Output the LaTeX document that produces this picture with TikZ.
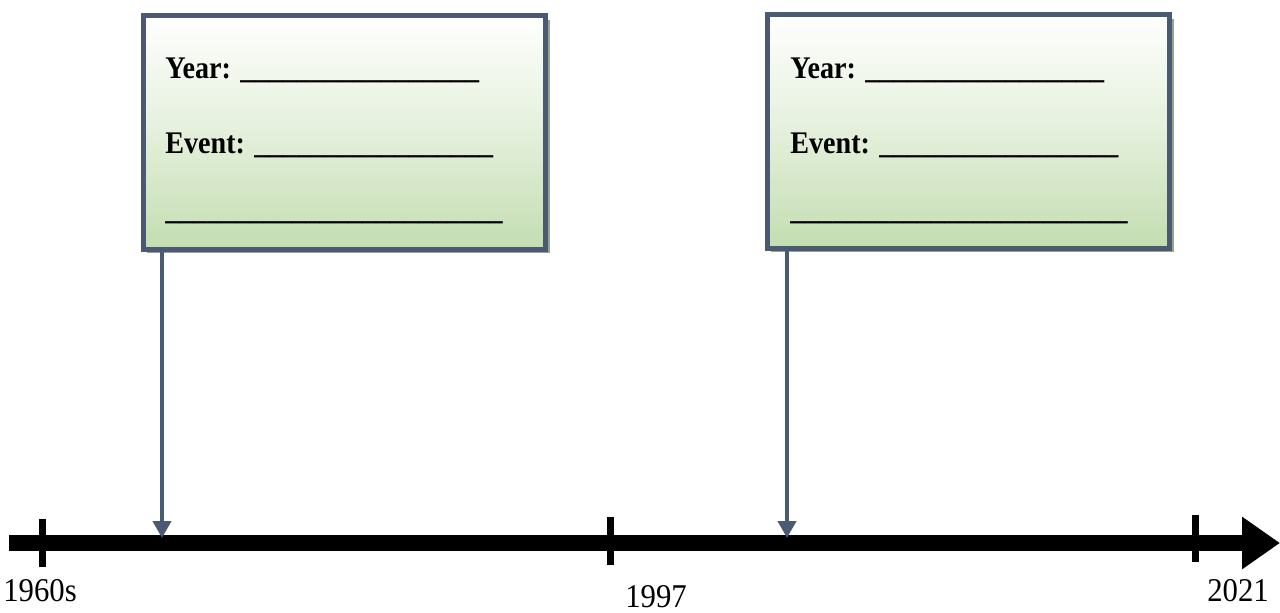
\documentclass[tikz,border=0pt]{standalone}
\usepackage{graphicx}
\usepackage{fontspec}
\setmainfont{Liberation Serif}
\usetikzlibrary{arrows.meta,shadows}
\definecolor{bordc}{HTML}{4A5A72}
\definecolor{shadc}{HTML}{96A688}
\definecolor{greenbot}{HTML}{C3DDB0}
\newcommand{\tallbox}[1]{\scalebox{1}[1.12]{#1}}
\newcommand{\tallyear}[1]{\scalebox{1}[1.08]{#1}}
\tikzset{
  eventbox/.style={draw=bordc, line width=0.1cm, rectangle, minimum width=8.06cm, minimum height=4.68cm,
    top color=white, bottom color=greenbot, middle color=greenbot!45!white,
    drop shadow={shadow xshift=0.08cm, shadow yshift=-0.08cm, fill=shadc, opacity=1}},
  conn/.style={draw=bordc, line width=0.08cm, -{Triangle[width=0.36cm,length=0.34cm]}},
  tick/.style={line width=0.14cm},
  boxtxt/.style={anchor=base west, inner sep=0pt, font=\fontsize{16}{19}\selectfont\bfseries},
  yeartxt/.style={anchor=base, inner sep=0pt, font=\fontsize{17.5}{20}\selectfont}
}
\begin{document}
\begin{tikzpicture}[x=0.02cm, y=-0.02cm]
\useasboundingbox (0,0) rectangle (1280,612);
% timeline
\coordinate (tlstart) at (9,543);
\coordinate (tlend) at (1280,543);
\draw[line width=0.32cm, -{Triangle[width=1.0cm,length=0.76cm]}] (tlstart) -- (tlend);
\draw[tick] (42,519) -- (42,567);
\draw[tick] (610,517) -- (610,565);
\draw[tick] (1195,515) -- (1195,562);
\node[yeartxt] (l1) at (40,601) {\tallyear{1960s}};
\node[yeartxt] (l2) at (656,607) {\tallyear{1997}};
\node[yeartxt] (l3) at (1238,601) {\tallyear{2021}};
% boxes
\node[eventbox] (b1) at (344.5,132.5) {};
\node[eventbox] (b2) at (968.5,131.5) {};
\node[boxtxt] (y1) at (165,78) {\tallbox{Year: \_\_\_\_\_\_\_\_\_\_\_\_\_\_\_\_\_}};
\node[boxtxt] (e1) at (165,153) {\tallbox{Event: \_\_\_\_\_\_\_\_\_\_\_\_\_\_\_\_\_}};
\node[boxtxt] (u1) at (165,219) {\tallbox{\_\_\_\_\_\_\_\_\_\_\_\_\_\_\_\_\_\_\_\_\_\_\_\_}};
\node[boxtxt] (y2) at (790,78) {\tallbox{Year: \_\_\_\_\_\_\_\_\_\_\_\_\_\_\_\_\_}};
\node[boxtxt] (e2) at (790,153) {\tallbox{Event: \_\_\_\_\_\_\_\_\_\_\_\_\_\_\_\_\_}};
\node[boxtxt] (u2) at (790,219) {\tallbox{\_\_\_\_\_\_\_\_\_\_\_\_\_\_\_\_\_\_\_\_\_\_\_\_}};
% connectors
\coordinate (t1) at (162,538);
\coordinate (t2) at (787,538);
\draw[conn] (b1.south -| t1) -- (t1);
\draw[conn] (b2.south -| t2) -- (t2);
\end{tikzpicture}
\end{document}
